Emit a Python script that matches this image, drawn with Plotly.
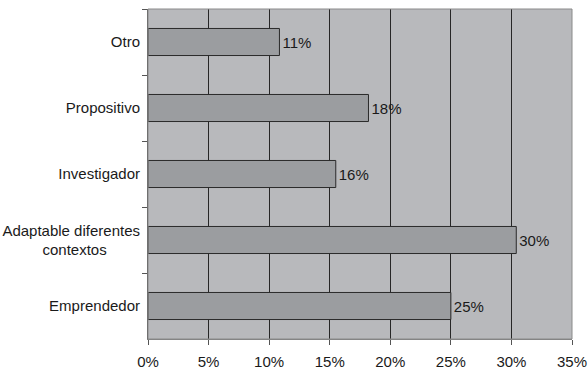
import plotly.graph_objects as go

categories = ["Otro", "Propositivo", "Investigador",
              "Adaptable diferentes<br>contextos" + "\u00a0" * 8, "Emprendedor"]
values = [10.85, 18.2, 15.5, 30.4, 25.0]
labels = ["11%", "18%", "16%", "30%", "25%"]
x_ticks = [0, 5, 10, 15, 20, 25, 30, 35]
x_tick_text = ["0%", "5%", "10%", "15%", "20%", "25%", "30%", "35%"]

FONT = "Liberation Sans, Arial, sans-serif"

fig = go.Figure()
fig.add_trace(go.Bar(
    y=categories,
    x=values,
    orientation="h",
    text=labels,
    textposition="outside",
    cliponaxis=False,
    textfont=dict(family=FONT, size=15, color="#1a1a1a"),
    marker=dict(color="#9b9da0", line=dict(color="#2a2a2a", width=1)),
))

fig.update_layout(
    width=588, height=369,
    margin=dict(l=148, r=16, t=9, b=30),
    paper_bgcolor="white",
    plot_bgcolor="#b8b9bc",
    bargap=0.59,
    showlegend=False,
    font=dict(family=FONT, size=15, color="#1a1a1a"),
)
fig.update_xaxes(
    range=[0, 35],
    tickvals=x_ticks,
    ticktext=x_tick_text,
    showgrid=True, gridcolor="#262626", gridwidth=1,
    zeroline=False,
    ticks="outside", ticklen=5, tickcolor="#555555",
    showline=True, linecolor="#7f7f7f", linewidth=1,
    ticklabelstandoff=4,
    automargin=False,
)
fig.update_yaxes(
    autorange="reversed",
    ticks="outside", ticklen=5, tickcolor="#555555",
    tickson="boundaries",
    showline=True, linecolor="#555555", linewidth=1,
    showgrid=False,
    ticklabelstandoff=4,
    automargin=False,
)
fig.add_shape(type="rect", xref="paper", yref="paper", x0=0, x1=1, y0=0, y1=1,
              line=dict(color="#8a8a8a", width=1), layer="above")

fig.write_html("out.html")
